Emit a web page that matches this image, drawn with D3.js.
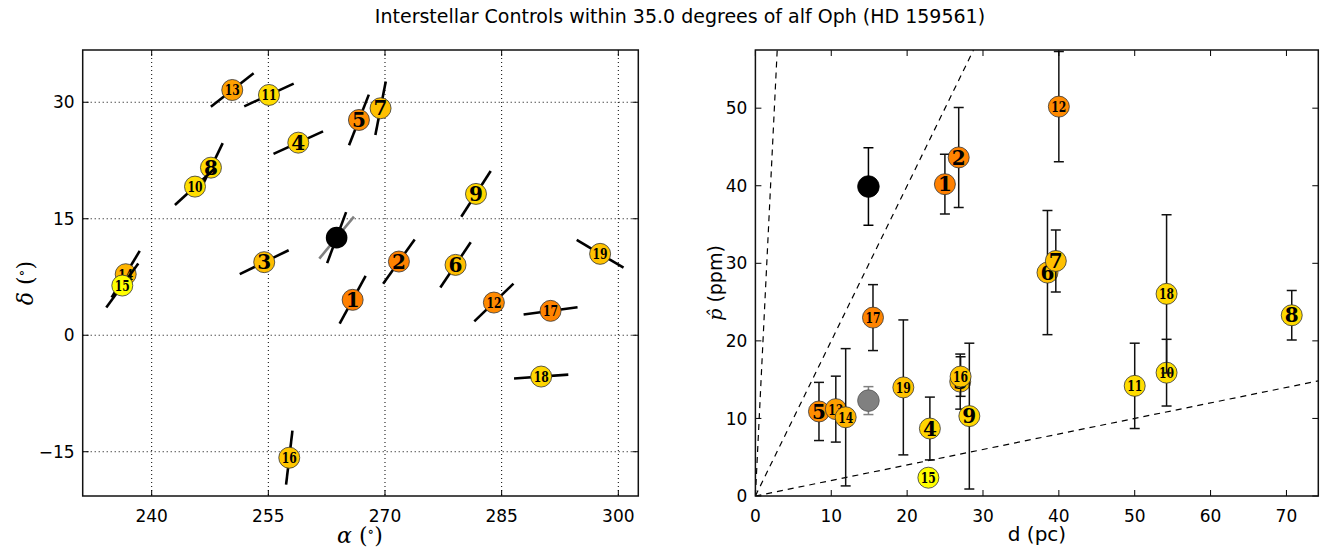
<!DOCTYPE html>
<html>
<head>
<meta charset="utf-8">
<script src="https://cdn.jsdelivr.net/npm/d3@7"></script>
<style>
body { margin: 0; background: #fff; }
text { font-family: "DejaVu Sans", sans-serif; fill: #000; }
</style>
</head>
<body>
<div id="chart"></div>
<script>
// control stars, numbered 1..19
var ids = [1, 2, 3, 4, 5, 6, 7, 8, 9, 10, 11, 12, 13, 14, 15, 16, 17, 18, 19];
var ra = [265.84, 271.79, 254.47, 258.85, 266.65, 279.07, 269.43, 247.62, 281.70, 245.57,
          255.08, 284.00, 250.36, 236.66, 236.22, 257.69, 291.29, 290.08, 297.66];
var dec = [4.56, 9.49, 9.41, 24.80, 27.72, 9.06, 29.23, 21.58, 18.20, 19.14,
           30.94, 4.21, 31.58, 7.86, 6.40, -15.77, 3.14, -5.32, 10.48];
// polarization position angle (deg, from +dec towards +ra)
var pa = [28.5, 35.4, 63.9, 65.5, 21.3, 33.9, 11.0, 25.6, 32.7, 47.5,
          65.3, 46.0, 51.7, 31.0, 36.0, 6.7, 82.4, 85.9, 120.7];
var dist = [24.98, 26.8, 27.0, 23.0, 8.38, 38.5, 39.6, 70.7, 28.2, 54.2,
            50.0, 40.0, 10.6, 11.9, 22.8, 27.05, 15.5, 54.2, 19.5];
var pol = [40.2, 43.65, 14.75, 8.7, 10.9, 28.8, 30.3, 23.3, 10.3, 15.9,
           14.2, 50.2, 11.2, 10.15, 2.36, 15.4, 23.0, 26.06, 14.0];
var polErr = [3.85, 6.45, 3.55, 4.05, 3.75, 8.0, 4.0, 3.2, 9.4, 4.3,
              5.5, 7.1, 4.25, 8.85, 1.0, 2.55, 4.25, 10.2, 8.7];
var starColors = ["#ff8000", "#ff8200", "#ffbe00", "#ffd400", "#ff8c00", "#ffbe00", "#ffc000",
                  "#ffda00", "#ffd600", "#ffde00", "#ffdc00", "#ff8a00", "#ffa000", "#ffb400",
                  "#ffff00", "#ffc600", "#ff8400", "#ffd600", "#ffc200"];

// the target alf Oph: two measurements (black, grey)
var targetPos = [263.78, 12.57];
var targetPA = [20.4, 39.5];
var targetDist = [14.9, 14.9];
var targetPol = [39.9, 12.3];
var targetErr = [5.0, 1.8];
var targetColors = ["#000000", "#808080"];

var raTicks = [240, 255, 270, 285, 300];
var decTicks = [-15, 0, 15, 30];
var dTicks = [0, 10, 20, 30, 40, 50, 60, 70];
var pTicks = [0, 10, 20, 30, 40, 50];
var slopes = [20, 2, 0.2];

var width = 1335, height = 547;
var svg = d3.select("#chart").append("svg")
    .attr("width", width)
    .attr("height", height);

svg.append("text")
    .attr("x", 680).attr("y", 23)
    .attr("text-anchor", "middle")
    .style("font-size", "19px")
    .text("Interstellar Controls within 35.0 degrees of alf Oph (HD 159561)");

var plotTop = 50, plotBottom = 496;
var segHalf = 3.5;   // half length of pol. segments, degrees
var rad = 10.5;

function fmt(v) {
    return v < 0 ? "\u2212" + Math.abs(v) : "" + v;
}

// frame + inward ticks on all sides
function frame(g, x, y, xt, yt, xl, xr) {
    var tl = 6;
    xt.forEach(function (t) {
        g.append("line").attr("x1", x(t)).attr("x2", x(t)).attr("y1", plotBottom).attr("y2", plotBottom - tl).attr("stroke", "#000");
        g.append("line").attr("x1", x(t)).attr("x2", x(t)).attr("y1", plotTop).attr("y2", plotTop + tl).attr("stroke", "#000");
        g.append("text").attr("x", x(t)).attr("y", 522).attr("text-anchor", "middle")
            .style("font-size", "17px").text(fmt(t));
    });
    yt.forEach(function (t) {
        g.append("line").attr("x1", xl).attr("x2", xl + tl).attr("y1", y(t)).attr("y2", y(t)).attr("stroke", "#000");
        g.append("line").attr("x1", xr).attr("x2", xr - tl).attr("y1", y(t)).attr("y2", y(t)).attr("stroke", "#000");
        g.append("text").attr("x", xl - 8).attr("y", y(t)).attr("dy", "0.36em").attr("text-anchor", "end")
            .style("font-size", "17px").text(fmt(t));
    });
    g.append("rect").attr("x", xl).attr("y", plotTop).attr("width", xr - xl).attr("height", plotBottom - plotTop)
        .attr("fill", "none").attr("stroke", "#111").attr("stroke-width", 1.5);
}

function numberedCircle(g, cx, cy, id, color) {
    g.append("circle").attr("cx", cx).attr("cy", cy).attr("r", rad)
        .attr("fill", color).attr("stroke", "#333").attr("stroke-width", 0.8);
    var t = g.append("text").attr("x", cx).attr("y", cy).attr("dy", "0.36em")
        .attr("text-anchor", "middle")
        .style("font-family", "'DejaVu Serif', serif")
        .style("font-weight", "bold")
        .style("font-size", id < 10 ? "20px" : "15px")
        .text(id);
    if (id >= 10) t.attr("textLength", 15).attr("lengthAdjust", "spacingAndGlyphs");
}

// ---------- left: sky positions ----------
var xl = d3.scaleLinear().domain([231.13, 302.57]).range([82.7, 638.3]);
var yl = d3.scaleLinear().domain([-20.7, 36.73]).range([plotBottom, plotTop]);
var gl = svg.append("g");

svg.append("clipPath").attr("id", "clipL").append("rect")
    .attr("x", 82.7).attr("y", plotTop).attr("width", 638.3 - 82.7).attr("height", plotBottom - plotTop);

raTicks.forEach(function (t) {
    gl.append("line").attr("x1", xl(t)).attr("x2", xl(t)).attr("y1", plotTop).attr("y2", plotBottom)
        .attr("stroke", "#000").attr("stroke-dasharray", "1,3");
});
decTicks.forEach(function (t) {
    gl.append("line").attr("x1", 82.7).attr("x2", 638.3).attr("y1", yl(t)).attr("y2", yl(t))
        .attr("stroke", "#000").attr("stroke-dasharray", "1,3");
});

var pl = gl.append("g").attr("clip-path", "url(#clipL)");

function segment(g, a, d, ang, color) {
    var r = ang * Math.PI / 180;
    var dx = Math.sin(r) * segHalf, dy = Math.cos(r) * segHalf;
    g.append("line")
        .attr("x1", xl(a - dx)).attr("y1", yl(d - dy))
        .attr("x2", xl(a + dx)).attr("y2", yl(d + dy))
        .attr("stroke", color).attr("stroke-width", 2.6);
}

segment(pl, targetPos[0], targetPos[1], targetPA[1], targetColors[1]);
segment(pl, targetPos[0], targetPos[1], targetPA[0], targetColors[0]);
pl.append("circle").attr("cx", xl(targetPos[0])).attr("cy", yl(targetPos[1])).attr("r", 10.8).attr("fill", "#000");

ids.forEach(function (id, i) {
    segment(pl, ra[i], dec[i], pa[i], "#000");
    numberedCircle(pl, xl(ra[i]), yl(dec[i]), id, starColors[i]);
});

frame(gl, xl, yl, raTicks, decTicks, 82.7, 638.3);

var ax = gl.append("text").attr("x", 360).attr("y", 543).attr("text-anchor", "middle")
    .style("font-family", "'DejaVu Serif', serif").style("font-size", "22px");
ax.append("tspan").style("font-style", "italic").text("\u03b1");
ax.append("tspan").text(" (");
ax.append("tspan").attr("dy", -7).style("font-size", "14px").text("\u2218");
ax.append("tspan").attr("dy", 7).text(")");

var ay = gl.append("text").attr("transform", "translate(33,283) rotate(-90)").attr("text-anchor", "middle")
    .style("font-family", "'DejaVu Serif', serif").style("font-size", "22px");
ay.append("tspan").style("font-style", "italic").text("\u03b4");
ay.append("tspan").text(" (");
ay.append("tspan").attr("dy", -7).style("font-size", "14px").text("\u2218");
ay.append("tspan").attr("dy", 7).text(")");

// ---------- right: p vs distance ----------
var x0 = 755.4, x1 = 1318.3;
var xr = d3.scaleLinear().domain([0, 74.2]).range([x0, x1]);
var yr = d3.scaleLinear().domain([0, 57.5]).range([plotBottom, plotTop]);
var gr = svg.append("g");

svg.append("clipPath").attr("id", "clipR").append("rect")
    .attr("x", x0).attr("y", plotTop).attr("width", x1 - x0).attr("height", plotBottom - plotTop);
var pr = gr.append("g").attr("clip-path", "url(#clipR)");

slopes.forEach(function (s) {
    var xe = Math.min(74.2, 57.5 / s);
    pr.append("line").attr("x1", xr(0)).attr("y1", yr(0)).attr("x2", xr(xe)).attr("y2", yr(xe * s))
        .attr("stroke", "#000").attr("stroke-width", 1.2).attr("stroke-dasharray", "6,5");
});

function errBar(g, d, p, e, color) {
    var cx = xr(d);
    g.append("line").attr("x1", cx).attr("x2", cx).attr("y1", yr(p - e)).attr("y2", yr(p + e))
        .attr("stroke", color).attr("stroke-width", 1.5);
    [p - e, p + e].forEach(function (v) {
        g.append("line").attr("x1", cx - 5).attr("x2", cx + 5).attr("y1", yr(v)).attr("y2", yr(v))
            .attr("stroke", color).attr("stroke-width", 1.5);
    });
}

targetDist.forEach(function (d, i) {
    errBar(pr, d, targetPol[i], targetErr[i], targetColors[i]);
    pr.append("circle").attr("cx", xr(d)).attr("cy", yr(targetPol[i])).attr("r", 10.8)
        .attr("fill", targetColors[i]).attr("stroke", i ? "#555" : "#000").attr("stroke-width", 0.8);
});

ids.forEach(function (id, i) {
    errBar(pr, dist[i], pol[i], polErr[i], "#111");
    numberedCircle(pr, xr(dist[i]), yr(pol[i]), id, starColors[i]);
});

frame(gr, xr, yr, dTicks, pTicks, x0, x1);

gr.append("text").attr("x", 1037).attr("y", 541).attr("text-anchor", "middle")
    .style("font-size", "20px").text("d (pc)");

var py = gr.append("text").attr("transform", "translate(722,283) rotate(-90)").attr("text-anchor", "middle")
    .style("font-size", "19px");
py.append("tspan").style("font-family", "'DejaVu Serif', serif").style("font-style", "italic").text("p\u0302");
py.append("tspan").text(" (ppm)");
</script>
</body>
</html>
